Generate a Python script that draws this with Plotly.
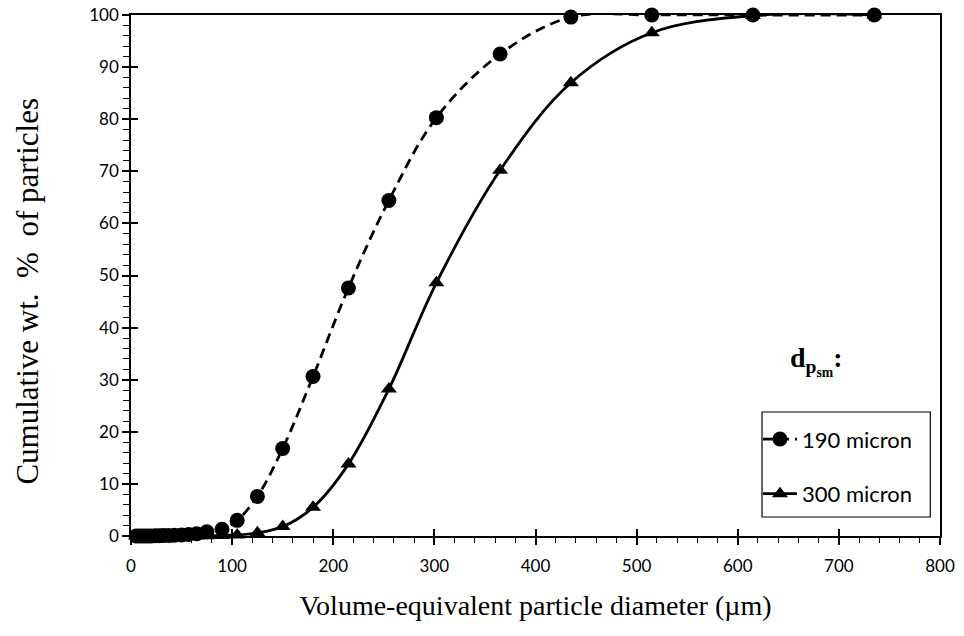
import plotly.graph_objects as go

# Particle size distributions (cumulative weight %) for two mean sizes
diameter_um = [5, 8, 11, 14, 17, 20, 24, 28, 32, 37, 43, 50, 57, 65, 75,
               90, 105, 125, 150, 180, 215, 255, 302, 365, 435, 515, 615, 735]

cum_190 = [0, 0, 0, 0, 0, 0, 0.05, 0.05, 0.1, 0.1, 0.15, 0.2, 0.3, 0.45, 0.8,
           1.3, 3.0, 7.6, 16.8, 30.6, 47.6, 64.4, 80.3, 92.5, 99.6, 100, 100, 100]

cum_300 = [0, 0, 0, 0, 0, 0, 0, 0, 0, 0, 0, 0, 0, 0, 0.05,
           0.1, 0.2, 0.6, 1.8, 5.5, 13.8, 28.2, 48.6, 70.2, 87.0, 96.6, 99.9, 100]

series_names = ["190 micron", "300 micron"]

x_ticks = [0, 100, 200, 300, 400, 500, 600, 700, 800]
y_ticks = [0, 10, 20, 30, 40, 50, 60, 70, 80, 90, 100]

SANS = "Lato, Carlito, Arial"
SERIF = "Liberation Serif, Times New Roman"
TICK_FONT = dict(family=SANS, size=17, color="black")
TITLE_FONT = dict(family=SERIF, size=28, color="black")
NB = "\u00a0"

fig = go.Figure()

fig.add_trace(go.Scatter(
    x=diameter_um, y=cum_190, name=series_names[0], legendgroup="a",
    mode="lines+markers", line=dict(color="black", width=2.8, dash="10px,6px",
                                    shape="spline", smoothing=1.0),
    marker=dict(symbol="circle", size=15, color="black"),
    cliponaxis=False,
))
fig.add_trace(go.Scatter(
    x=diameter_um, y=cum_300, name=series_names[1], legendgroup="b",
    mode="lines+markers", line=dict(color="black", width=2.8,
                                    shape="spline", smoothing=1.0),
    marker=dict(symbol="triangle-up", size=14, color="black"),
    cliponaxis=False,
))

# invisible trace so the overlay axes (inner halves of the major ticks) render
fig.add_trace(go.Scatter(x=[0], y=[0], xaxis="x2", yaxis="y2", mode="markers",
                         marker=dict(opacity=0), showlegend=False, hoverinfo="skip"))

fig.update_layout(
    width=964, height=636,
    margin=dict(l=131, r=24, t=15, b=100, autoexpand=False),
    paper_bgcolor="white", plot_bgcolor="white",
    showlegend=True,
    legend=dict(
        x=0.775, y=0.226, xanchor="left", yanchor="top",
        borderwidth=0, bgcolor="rgba(0,0,0,0)",
        font=dict(family=SANS, size=22, color="black"),
        tracegroupgap=23, traceorder="grouped", itemwidth=34,
    ),
    xaxis=dict(
        range=[0, 800], tickvals=x_ticks, ticktext=[str(v) for v in x_ticks],
        showgrid=False, zeroline=False,
        showline=True, linecolor="black", linewidth=1.5, mirror=True,
        ticks="outside", ticklen=7, tickwidth=1.5, tickcolor="black",
        minor=dict(dtick=20, ticks="outside", ticklen=5, tickwidth=1.2, tickcolor="black"),
        tickfont=TICK_FONT, ticklabelstandoff=7,
        title=dict(text="Volume-equivalent particle diameter (µm)", font=TITLE_FONT, standoff=20),
    ),
    yaxis=dict(
        range=[0, 100], tickvals=y_ticks, ticktext=[str(v) for v in y_ticks],
        showgrid=False, zeroline=False,
        showline=True, linecolor="black", linewidth=1.5, mirror=True,
        ticks="outside", ticklen=7, tickwidth=1.5, tickcolor="black",
        minor=dict(dtick=2, ticks="outside", ticklen=6, tickwidth=1.2, tickcolor="black"),
        tickfont=TICK_FONT,
    ),
    xaxis2=dict(
        overlaying="x", matches="x", range=[0, 800], tickvals=x_ticks,
        showticklabels=False, showgrid=False, zeroline=False, showline=False,
        ticks="inside", ticklen=7, tickwidth=1.5, tickcolor="black", side="bottom",
    ),
    yaxis2=dict(
        overlaying="y", matches="y", range=[0, 100], tickvals=y_ticks,
        showticklabels=False, showgrid=False, zeroline=False, showline=False,
        ticks="inside", ticklen=7, tickwidth=1.5, tickcolor="black", side="left",
    ),
)

# y-axis title, set slightly below the plot centre
fig.add_annotation(
    xref="paper", yref="paper", x=-0.128, y=0.470, xanchor="center", yanchor="middle",
    textangle=-90, showarrow=False,
    text=f"Cumulative{NB}wt.{NB}{NB}%{NB}{NB}of{NB}particles",
    font=dict(family=SERIF, size=31, color="black"),
)

# legend frame
fig.add_shape(type="rect", xref="paper", yref="paper",
              x0=0.780, x1=0.988, y0=0.0365, y1=0.238,
              line=dict(color="black", width=1.2), fillcolor="rgba(0,0,0,0)")

fig.add_annotation(
    xref="paper", yref="paper", x=0.812, y=0.335, xanchor="left", yanchor="middle",
    text="<b>d<sub>p<sub>sm</sub></sub>:</b>", showarrow=False,
    font=dict(family=SERIF, size=28, color="black"),
)

fig.write_html("out.html")
